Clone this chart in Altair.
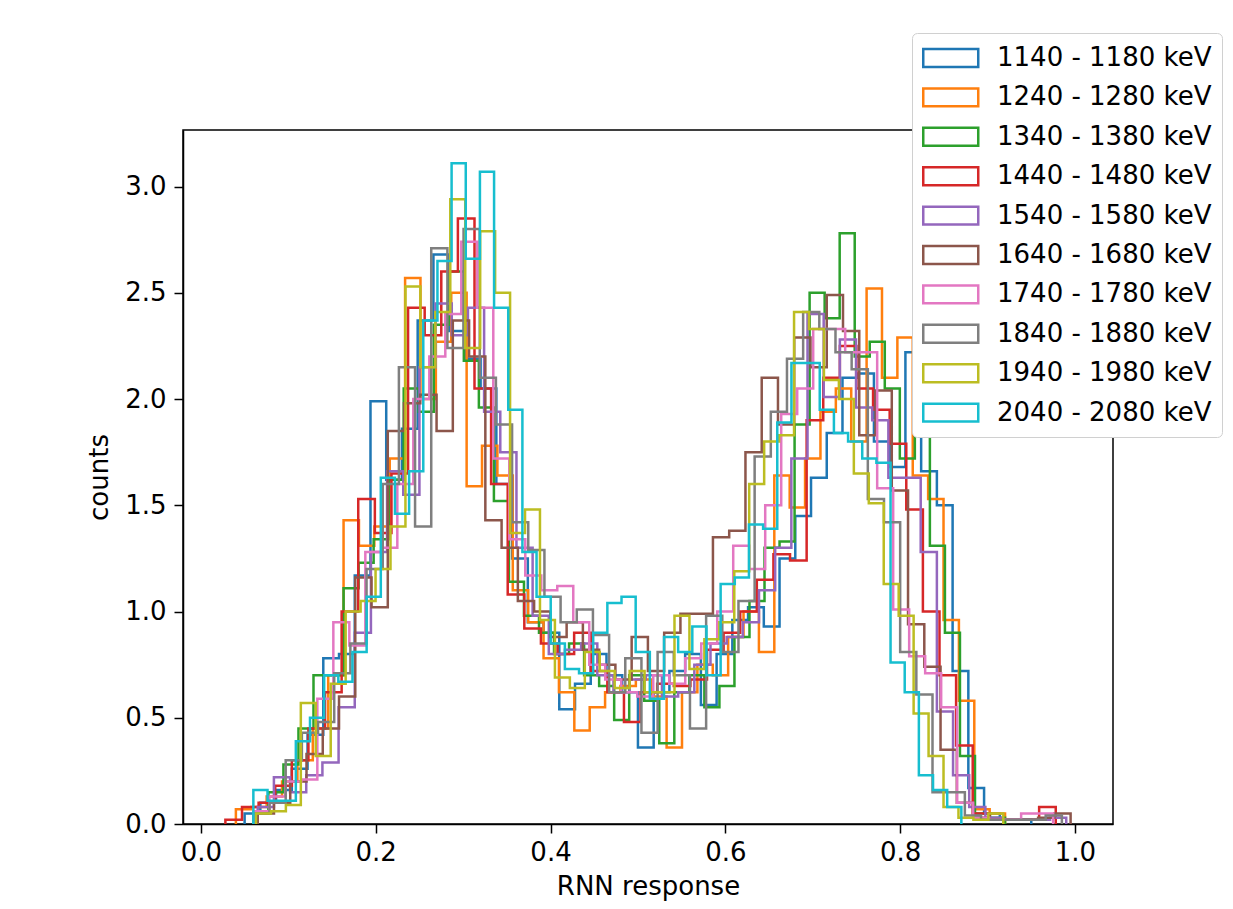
import altair as alt
import pandas as pd

# Energy windows (legend labels) and matplotlib tab10 colours
labels = ["1140 - 1180 keV", "1240 - 1280 keV", "1340 - 1380 keV", "1440 - 1480 keV",
          "1540 - 1580 keV", "1640 - 1680 keV", "1740 - 1780 keV", "1840 - 1880 keV",
          "1940 - 1980 keV", "2040 - 2080 keV"]
colors = ["#1f77b4", "#ff7f0e", "#2ca02c", "#d62728", "#9467bd",
          "#8c564b", "#e377c2", "#7f7f7f", "#bcbd22", "#17becf"]

# First bin edge and bin width of each histogram (50 bins each)
bin_start = [0.05, 0.04, 0.06, 0.028, 0.065, 0.065, 0.06, 0.06, 0.063, 0.06]
bin_width = [0.018, 0.0176, 0.0172, 0.019, 0.0185, 0.0186, 0.0183, 0.0185, 0.0171, 0.0162]

# Normalised counts per bin
h1140 = [0.05, 0.10, 0.16, 0.26, 0.42, 0.78, 0.80, 1.17, 1.99, 1.62,
         1.86, 2.37, 2.68, 2.32, 2.19, 2.05, 1.60, 1.25, 0.95, 0.90,
         0.54, 0.66, 0.80, 0.70, 0.62, 0.36, 0.62, 0.72, 0.80, 0.56,
         0.80, 0.96, 1.02, 0.93, 1.25, 1.45, 1.63, 1.84, 2.10, 2.12,
         1.80, 1.68, 2.22, 1.66, 1.50, 0.72, 0.17, 0.05, 0.02, 0.02]
h1240 = [0.07, 0.08, 0.13, 0.20, 0.30, 0.45, 0.70, 1.43, 1.31, 1.40,
         1.72, 2.57, 2.00, 2.27, 2.50, 1.59, 1.78, 1.64, 1.10, 0.95,
         0.78, 0.62, 0.44, 0.55, 0.62, 0.65, 0.68, 0.60, 0.36, 0.62,
         0.75, 0.70, 0.88, 1.00, 0.81, 1.64, 1.49, 1.72, 1.94, 2.05,
         1.80, 2.52, 2.10, 2.29, 1.64, 1.53, 0.96, 0.58, 0.07, 0.05]
h1340 = [0.05, 0.15, 0.28, 0.45, 0.70, 0.70, 1.11, 1.23, 1.34, 1.62,
         2.05, 1.94, 2.35, 2.60, 2.18, 1.96, 1.52, 1.14, 0.98, 0.90,
         0.80, 0.85, 0.70, 0.65, 0.49, 0.70, 0.58, 0.38, 0.62, 0.70,
         0.55, 0.65, 0.88, 1.05, 1.30, 1.33, 1.88, 2.50, 2.38, 2.78,
         2.20, 2.27, 2.05, 1.72, 1.85, 1.31, 0.90, 0.32, 0.05, 0.03]
h1440 = [0.02, 0.08, 0.10, 0.18, 0.30, 0.45, 0.62, 1.00, 1.53, 1.37,
         1.65, 2.43, 2.30, 2.60, 2.85, 2.05, 1.60, 1.08, 0.92, 0.85,
         0.80, 0.90, 0.72, 0.62, 0.48, 0.62, 0.66, 0.65, 0.68, 0.82,
         0.90, 1.00, 1.15, 1.27, 1.24, 1.90, 2.10, 2.25, 2.05, 1.95,
         1.79, 1.48, 1.00, 0.70, 0.37, 0.05, 0.02, 0.02, 0.02, 0.08]
h1540 = [0.08, 0.22, 0.15, 0.23, 0.29, 0.55, 0.90, 1.28, 1.66, 1.55,
         2.15, 2.45, 2.30, 2.43, 1.94, 1.75, 1.30, 0.98, 0.80, 0.82,
         0.85, 0.70, 0.62, 0.68, 0.70, 0.60, 0.62, 0.75, 0.85, 0.88,
         0.95, 1.10, 1.30, 1.72, 2.40, 2.01, 2.28, 1.96, 1.90, 1.63,
         1.63, 1.28, 0.53, 0.23, 0.08, 0.03, 0.02, 0.02, 0.02, 0.03]
h1640 = [0.05, 0.10, 0.20, 0.33, 0.45, 0.60, 1.16, 1.02, 1.85, 1.98,
         2.02, 1.85, 2.37, 2.20, 1.43, 1.30, 1.05, 1.00, 0.88, 0.95,
         0.82, 0.75, 0.68, 0.88, 0.72, 0.90, 0.99, 0.99, 1.35, 1.38,
         1.75, 2.10, 1.88, 2.29, 2.15, 2.49, 2.32, 1.83, 2.04, 1.57,
         0.94, 0.74, 0.35, 0.10, 0.03, 0.02, 0.02, 0.02, 0.03, 0.05]
h1740 = [0.06, 0.13, 0.20, 0.21, 0.59, 0.95, 0.84, 1.28, 1.30, 1.60,
         2.00, 2.20, 2.40, 2.74, 2.43, 1.72, 1.34, 1.17, 1.10, 1.12,
         0.95, 0.75, 0.68, 0.62, 0.60, 0.70, 0.66, 0.78, 0.85, 1.00,
         1.31, 1.20, 1.50, 1.93, 2.05, 2.33, 2.33, 2.22, 2.22, 1.58,
         1.01, 0.79, 0.71, 0.55, 0.10, 0.03, 0.02, 0.02, 0.05, 0.05]
h1840 = [0.05, 0.10, 0.30, 0.43, 0.48, 0.71, 0.85, 1.20, 1.60, 2.15,
         1.40, 2.71, 2.24, 2.80, 2.10, 1.88, 1.42, 1.29, 1.07, 0.95,
         1.01, 0.89, 0.62, 0.78, 0.43, 0.81, 0.70, 0.45, 0.98, 0.81,
         1.05, 1.73, 1.94, 2.19, 2.41, 2.33, 2.22, 2.14, 1.53, 1.42,
         0.81, 0.61, 0.15, 0.15, 0.04, 0.02, 0.02, 0.02, 0.02, 0.04]
h1940 = [0.05, 0.06, 0.09, 0.57, 0.32, 0.66, 1.00, 1.05, 1.20, 1.40,
         2.53, 2.15, 2.41, 2.94, 2.24, 2.79, 2.50, 1.37, 1.48, 0.96,
         0.69, 0.64, 0.81, 0.72, 0.64, 0.72, 0.62, 0.62, 0.98, 0.73,
         0.87, 0.95, 1.19, 1.60, 1.80, 1.83, 2.41, 2.33, 2.09, 2.00,
         1.65, 1.51, 1.13, 0.98, 0.52, 0.32, 0.08, 0.03, 0.02, 0.05]
h2040 = [0.16, 0.11, 0.11, 0.39, 0.50, 0.70, 0.67, 0.81, 1.07, 1.63,
         1.46, 1.66, 2.37, 2.65, 3.11, 2.66, 3.07, 2.43, 1.95, 1.28,
         1.07, 0.85, 0.73, 0.71, 0.90, 1.04, 1.07, 0.81, 0.59, 0.88,
         0.81, 0.93, 0.70, 1.13, 1.16, 1.41, 1.39, 1.89, 2.17, 2.17,
         1.95, 1.84, 1.80, 1.72, 1.70, 0.76, 0.62, 0.23, 0.16, 0.08]

hists = [h1140, h1240, h1340, h1440, h1540, h1640, h1740, h1840, h1940, h2040]

x_ticks = [0.0, 0.2, 0.4, 0.6, 0.8, 1.0]
y_ticks = [0.0, 0.5, 1.0, 1.5, 2.0, 2.5, 3.0]

# Step outline vertices built from the bin edges and counts
rows = []
for lab, x0, w, vals in zip(labels, bin_start, bin_width, hists):
    k = 0
    rows.append({"series": lab, "x": x0, "y": 0.0, "o": k})
    for i, v in enumerate(vals):
        k += 1
        rows.append({"series": lab, "x": x0 + i * w, "y": v, "o": k})
        k += 1
        rows.append({"series": lab, "x": x0 + (i + 1) * w, "y": v, "o": k})
    k += 1
    rows.append({"series": lab, "x": x0 + len(vals) * w, "y": 0.0, "o": k})
df = pd.DataFrame(rows)

FONT = "DejaVu Sans"
FS = 26

chart = alt.Chart(df).mark_line(strokeWidth=2.5, strokeJoin="miter").encode(
    x=alt.X("x:Q",
            scale=alt.Scale(domain=[-0.0205, 1.0435], nice=False, zero=False),
            axis=alt.Axis(values=x_ticks, format=".1f", title="RNN response",
                          grid=False, tickSize=9, tickWidth=1.5, tickColor="black",
                          domainColor="black", domainWidth=1.5,
                          labelFont=FONT, labelFontSize=FS, labelColor="black",
                          labelPadding=6, titleFont=FONT, titleFontSize=FS,
                          titleFontWeight="normal", titleColor="black", titlePadding=8)),
    y=alt.Y("y:Q",
            scale=alt.Scale(domain=[0, 3.266], nice=False, zero=True),
            axis=alt.Axis(values=y_ticks, format=".1f", title="counts",
                          grid=False, tickSize=9, tickWidth=1.5, tickColor="black",
                          domainColor="black", domainWidth=1.5,
                          labelFont=FONT, labelFontSize=FS, labelColor="black",
                          labelPadding=8, titleFont=FONT, titleFontSize=FS,
                          titleFontWeight="normal", titleColor="black", titlePadding=12)),
    color=alt.Color("series:N",
                    scale=alt.Scale(domain=labels, range=colors),
                    legend=alt.Legend(title=None, orient="none", legendX=729, legendY=-97,
                                      symbolType="M-1,-0.65L3,-0.65L3,0.65L-1,0.65Z",
                                      symbolSize=756, symbolStrokeWidth=2.5,
                                      symbolFillColor="white",
                                      labelFont=FONT, labelFontSize=FS, labelColor="black",
                                      labelLimit=400, labelOffset=45, rowPadding=10.4,
                                      padding=10, fillColor="white", strokeColor="#d0d0d0",
                                      cornerRadius=5)),
    order=alt.Order("o:Q"),
).properties(
    width=930,
    height=694,
    padding={"left": 175, "top": 122, "right": 110, "bottom": 77},
    autosize=alt.AutoSizeParams(type="none"),
).configure(
    font=FONT, background="white"
).configure_view(
    stroke="black", strokeWidth=1.5
)

chart.save("out.html", embed_options={"renderer": "svg", "actions": False})
